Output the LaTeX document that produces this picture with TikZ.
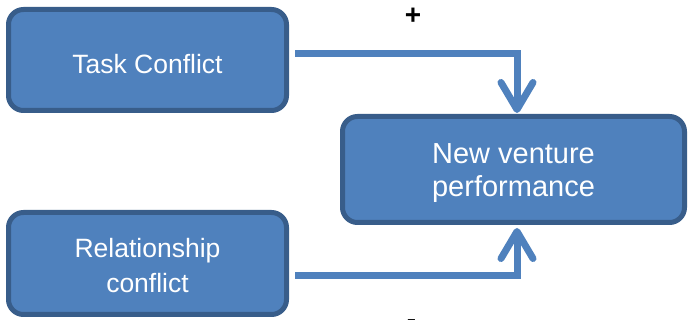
\documentclass[tikz,border=0pt]{standalone}
\usepackage{fontspec}
\setmainfont{Liberation Sans}
\usetikzlibrary{arrows.meta}
\definecolor{boxfill}{HTML}{4F81BD}
\definecolor{boxedge}{HTML}{385D8A}
\begin{document}
\begin{tikzpicture}[x=1pt,y=-1pt,
  factor/.style={draw=boxedge, fill=boxfill, line width=5pt, rounded corners=15pt,
    text=white, align=center, font=\fontsize{26.5}{35}\selectfont,
    minimum width=278pt, inner sep=0pt},
  outcome/.style={factor, minimum width=342pt, minimum height=106pt,
    font=\fontsize{29}{33}\selectfont},
  conn/.style={draw=boxfill, line width=7pt,
    -{Straight Barb[length=27pt,width=32pt,line cap=round,line join=round]}},
  sign/.style={font=\bfseries\fontsize{28}{28}\selectfont, inner sep=0pt}]
  \useasboundingbox (0,0) rectangle (688,320);

  % predictor boxes and outcome box
  \node[factor, minimum height=101pt, text height=28pt, text depth=0pt] (tc) at (147.5,60) {Task Conflict};
  \node[factor, minimum height=102pt, text height=59pt, text depth=0pt] (rc) at (147.5,263.5) {Relationship\\conflict};
  \node[outcome, text height=55pt, text depth=0pt] (nv) at (513.5,169.5) {New venture\\performance};

  % effect arrows
  \draw[conn] ([xshift=6pt,yshift=6.5pt]tc.east) -| ([xshift=3.5pt,yshift=1pt]nv.north);
  \draw[conn] ([xshift=6pt,yshift=-12.5pt]rc.east) -| ([xshift=3.5pt,yshift=-3pt]nv.south);

  % signs of the effects
  \node[sign] (plus) at (413,16) {+};
  \node[sign, anchor=base] (minus) at (411.5,328) {-};
\end{tikzpicture}
\end{document}
